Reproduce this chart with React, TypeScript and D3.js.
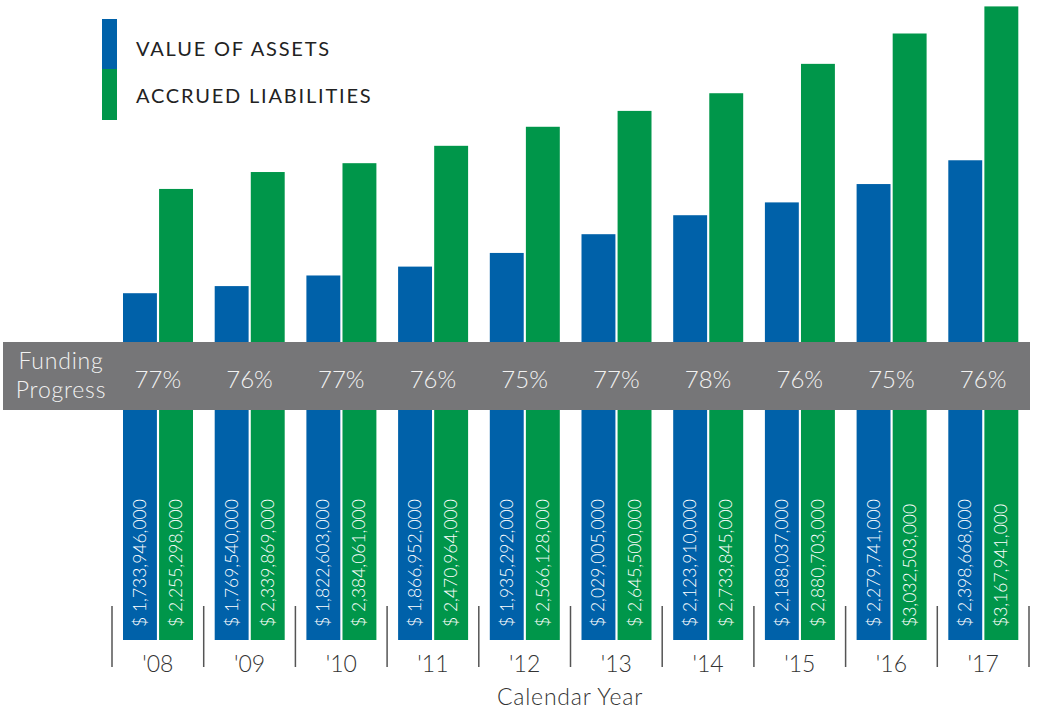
import React from 'react';
import * as d3 from 'd3';

const years = ["'08", "'09", "'10", "'11", "'12", "'13", "'14", "'15", "'16", "'17"];
const assets = [1733946000, 1769540000, 1822603000, 1866952000, 1935292000, 2029005000, 2123910000, 2188037000, 2279741000, 2398668000];
const liabilities = [2255298000, 2339869000, 2384061000, 2470964000, 2566128000, 2645500000, 2733845000, 2880703000, 3032503000, 3167941000];
const assetLabels = ['$ 1,733,946,000', '$ 1,769,540,000', '$ 1,822,603,000', '$ 1,866,952,000', '$ 1,935,292,000', '$ 2,029,005,000', '$ 2,123,910,000', '$ 2,188,037,000', '$ 2,279,741,000', '$ 2,398,668,000'];
const liabilityLabels = ['$ 2,255,298,000', '$ 2,339,869,000', '$ 2,384,061,000', '$ 2,470,964,000', '$ 2,566,128,000', '$ 2,645,500,000', '$ 2,733,845,000', '$ 2,880,703,000', '$3,032,503,000', '$3,167,941,000'];
const funding = ['77%', '76%', '77%', '76%', '75%', '77%', '78%', '76%', '75%', '76%'];
const seriesKeys = ['assets', 'liabilities'];

const BLUE = '#0061a9';
const GREEN = '#00964a';
const FONT = "Lato, 'Open Sans', sans-serif";

export default function App() {
  const W = 1044, H = 711;
  const baseY = 640;

  const x = d3.scaleBand<string>().domain(years).range([112, 1029]);
  const inner = d3.scaleBand<string>().domain(seriesKeys).range([11, 81]).paddingInner(0.06);
  const y = d3.scaleLinear().domain([0, 3.2e9]).range([baseY, 0]);

  const rows = years.map((yr, i) => ({
    yr,
    vals: [
      { key: 'assets', v: assets[i], label: assetLabels[i], color: BLUE },
      { key: 'liabilities', v: liabilities[i], label: liabilityLabels[i], color: GREEN },
    ],
  }));

  return (
    <svg width={W} height={H} style={{ position: 'absolute', left: 0, top: 0, background: '#fff' }}>
      {/* legend */}
      <rect x={102} y={19} width={15} height={51} fill={BLUE} />
      <rect x={102} y={69} width={15} height={51} fill={GREEN} />
      <text x={136} y={56} fontFamily={FONT} fontSize={20} letterSpacing={1.8} fill="#222">VALUE OF ASSETS</text>
      <text x={136} y={103} fontFamily={FONT} fontSize={20} letterSpacing={1.8} fill="#222">ACCRUED LIABILITIES</text>

      {rows.map((r) => (
        <g key={r.yr} transform={`translate(${x(r.yr)},0)`}>
          {r.vals.map((d) => {
            const bx = inner(d.key)!;
            const bw = inner.bandwidth();
            return (
              <g key={d.key}>
                <rect x={bx} y={y(d.v)} width={bw} height={baseY - y(d.v)} fill={d.color} />
                <text
                  transform={`translate(${bx + bw / 2 + 6},627) rotate(-90)`}
                  fontFamily={FONT}
                  fontSize={17.5}
                  fontWeight={300}
                  fill="#fff"
                >
                  {d.label}
                </text>
              </g>
            );
          })}
        </g>
      ))}

      {/* funding progress band */}
      <rect x={3} y={342} width={1027} height={68} fill="#767678" />
      <text x={61} y={369} textAnchor="middle" fontFamily={FONT} fontSize={23} fontWeight={300} letterSpacing={0.8} fill="#f2f2f2">Funding</text>
      <text x={61} y={398} textAnchor="middle" fontFamily={FONT} fontSize={23} fontWeight={300} letterSpacing={0.8} fill="#f2f2f2">Progress</text>
      {years.map((yr, i) => (
        <text key={yr} x={x(yr)! + x.bandwidth() / 2} y={388} textAnchor="middle" fontFamily={FONT} fontSize={24} fontWeight={300} fill="#f2f2f2">
          {funding[i]}
        </text>
      ))}

      {/* x axis separators and labels */}
      {[...years.map((yr) => x(yr)!), x.range()[1]].map((sx, i) => (
        <line key={i} x1={sx} x2={sx} y1={606} y2={667} stroke="#555" strokeWidth={1.5} />
      ))}
      {years.map((yr) => (
        <text key={yr} x={x(yr)! + x.bandwidth() / 2} y={672} textAnchor="middle" fontFamily={FONT} fontSize={23} fontWeight={300} fill="#333">
          {yr}
        </text>
      ))}
      <text x={570} y={705} textAnchor="middle" fontFamily={FONT} fontSize={23} fontWeight={300} letterSpacing={0.8} fill="#333">Calendar Year</text>
    </svg>
  );
}
